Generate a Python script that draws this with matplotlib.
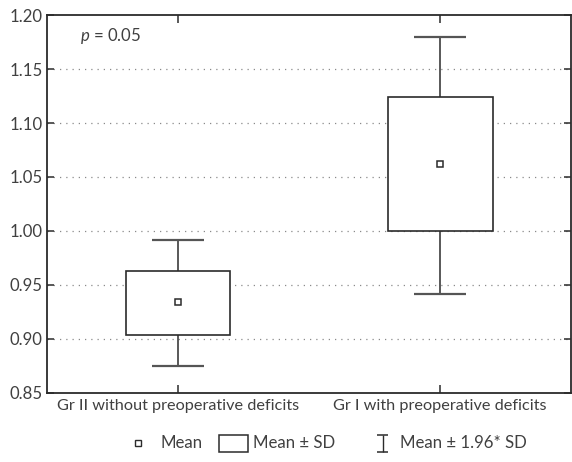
import numpy as np
import matplotlib
matplotlib.use('Agg')
import matplotlib.pyplot as plt
from matplotlib.patches import Rectangle

# ============================================
# DATA
# ============================================
groups = ['Gr II without preoperative deficits', 'Gr I with preoperative deficits']
means = [0.934, 1.062]
sd_low = [0.904, 1.000]
sd_high = [0.963, 1.124]
ci_low = [0.875, 0.942]
ci_high = [0.992, 1.180]
yticks = [0.85, 0.90, 0.95, 1.00, 1.05, 1.10, 1.15, 1.20]
p_text = '= 0.05'

plt.rcParams['font.family'] = ['Lato', 'DejaVu Sans']
plt.rcParams['font.size'] = 12
plt.rcParams['mathtext.fontset'] = 'custom'
plt.rcParams['mathtext.it'] = 'Lato:italic'
plt.rcParams['mathtext.rm'] = 'Lato'

line_col = '#2b2b2b'
cap_col = '#555555'
txt_col = '#404040'
fs = 12.1

fig = plt.figure(figsize=(5.72, 4.62), dpi=100)
ax = fig.add_axes([0.0822, 0.1494, 0.9163, 0.8181])

pos = np.arange(1, len(groups) + 1)
box_w = 0.4
cap_w = 0.2

# --- grid ---
for y in yticks[1:-1]:
    ax.axhline(y, color='#8a8a8a', linestyle=(0, (1, 4)), linewidth=0.9, zorder=1)

# --- whiskers, boxes, means ---
for i, x in enumerate(pos):
    ax.vlines(x, ci_low[i], ci_high[i], color=line_col, linewidth=1.1, zorder=2)
    ax.hlines([ci_low[i], ci_high[i]], x - cap_w / 2, x + cap_w / 2,
              color=cap_col, linewidth=1.6, zorder=2)
    ax.add_patch(Rectangle((x - box_w / 2, sd_low[i]), box_w, sd_high[i] - sd_low[i],
                           facecolor='white', edgecolor=line_col, linewidth=1.2, zorder=3))
ax.plot(pos, means, 's', markersize=5, markerfacecolor='white',
        markeredgecolor=line_col, markeredgewidth=1.1, linestyle='none', zorder=4)

ax.set_xlim(0.5, 2.5)
ax.set_ylim(0.85, 1.20)
ax.set_yticks(yticks)
ax.set_yticklabels([f'{v:.2f}' for v in yticks])
ax.set_xticks(pos)
ax.set_xticklabels(groups, fontsize=11.7)
ax.tick_params(axis='y', labelsize=fs, direction='in', length=5, width=1.1,
               right=True, colors=line_col, labelcolor=txt_col, pad=3)
ax.tick_params(axis='x', direction='in', length=6, width=1.1, top=True,
               colors=line_col, labelcolor=txt_col, pad=4)
for s in ax.spines.values():
    s.set_color(line_col)
    s.set_linewidth(1.3)

ax.text(0.063, 0.945, '$p$ ' + p_text, transform=ax.transAxes, fontsize=fs,
        color=txt_col, va='center', ha='left')

# --- legend drawn in pixel space ---
lg = fig.add_axes([0, 0, 1, 1], zorder=-1)
lg.set_xlim(0, 572)
lg.set_ylim(462, 0)
lg.axis('off')
ly = 443
lg.plot([137.5], [ly], 's', markersize=4.5, markerfacecolor='white',
        markeredgecolor=line_col, markeredgewidth=1.0)
lg.text(160, ly, 'Mean', va='center', ha='left', fontsize=fs, color=txt_col)
lg.add_patch(Rectangle((219, 435), 29, 17, facecolor='white', edgecolor=line_col, linewidth=1.1))
lg.text(253, ly, 'Mean ± SD', va='center', ha='left', fontsize=fs, color=txt_col)
lg.vlines(382.5, 435, 452, color=line_col, linewidth=1.0)
lg.hlines([435, 452], 377, 388, color=line_col, linewidth=1.1)
lg.text(400, ly, 'Mean ± 1.96* SD', va='center', ha='left', fontsize=fs, color=txt_col)

fig.savefig('out.png', dpi=100)
